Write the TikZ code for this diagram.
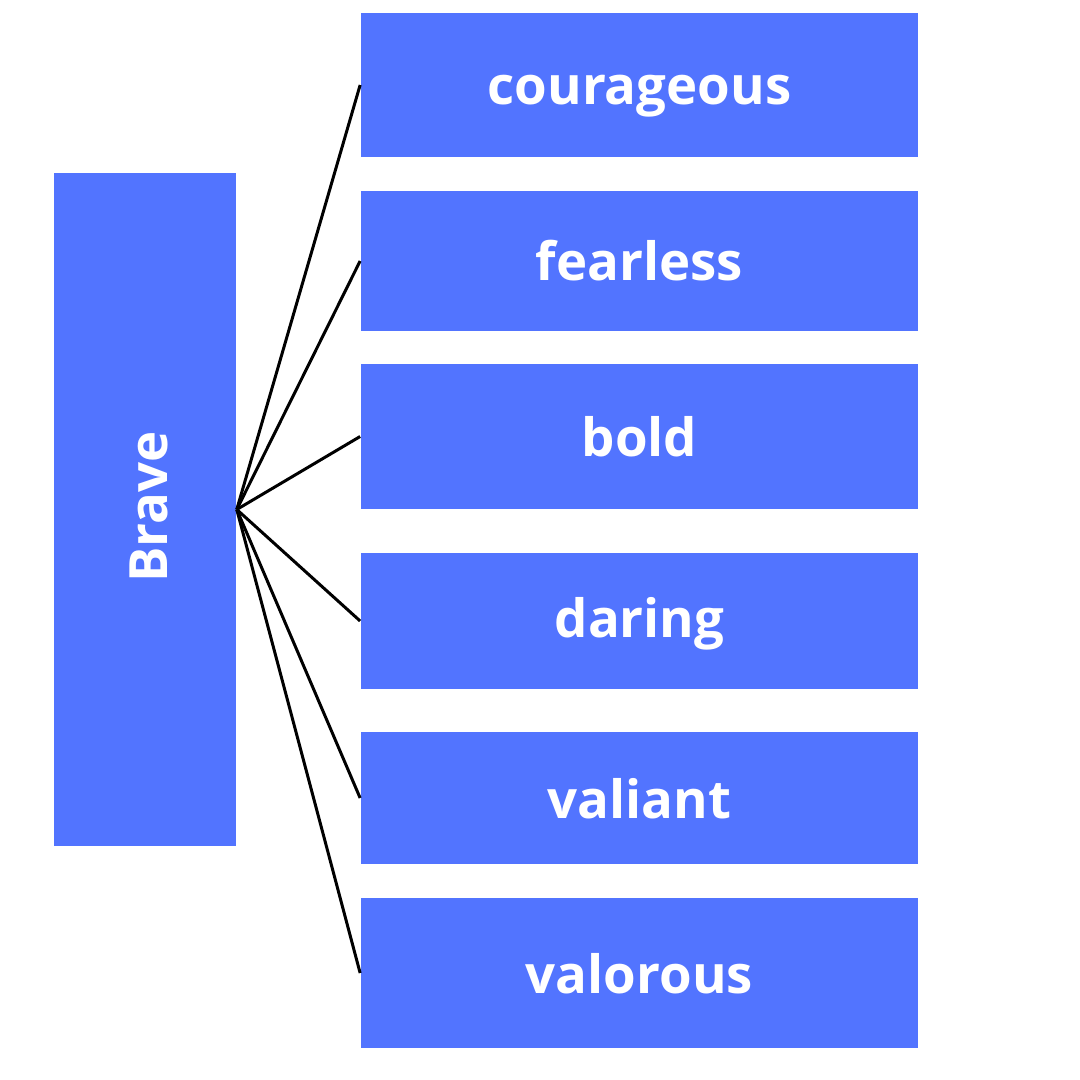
\documentclass[tikz,border=0pt]{standalone}
\usepackage{fontspec}
\setmainfont{Open Sans}
\definecolor{boxblue}{HTML}{5274FF}
\begin{document}
\begin{tikzpicture}[x=0.01cm,y=-0.01cm,
  wbox/.style={fill=boxblue,draw=none,inner sep=0pt,minimum width=5.57cm},
  wtext/.style={text=white,font=\fontsize{15pt}{17pt}\selectfont\bfseries,anchor=base,inner sep=0pt},
  link/.style={draw=black,line width=0.85pt}]
\useasboundingbox (0,0) rectangle (1080,1080);
\fill[white] (0,0) rectangle (1080,1080);
\node[wbox,minimum width=1.82cm,minimum height=6.73cm] (brave) at (145,509.5) {};
\node[wtext,rotate=90] (bravet) at (167,507) {Brave};
\node[wbox,minimum height=1.44cm] (b1) at (639.5,85) {};
\node[wbox,minimum height=1.40cm] (b2) at (639.5,261) {};
\node[wbox,minimum height=1.45cm] (b3) at (639.5,436.5) {};
\node[wbox,minimum height=1.36cm] (b4) at (639.5,621) {};
\node[wbox,minimum height=1.32cm] (b5) at (639.5,798) {};
\node[wbox,minimum height=1.50cm] (b6) at (639.5,973) {};
\node[wtext] (t1) at (639.5,105) {courageous};
\node[wtext] (t2) at (639.5,281) {fearless};
\node[wtext] (t3) at (639.5,457) {bold};
\node[wtext] (t4) at (639.5,637) {daring};
\node[wtext] (t5) at (639.5,818) {valiant};
\node[wtext] (t6) at (639.5,993) {valorous};
\coordinate (hub) at (brave.east);
\foreach \n in {b1,b2,b3,b4,b5,b6} \draw[link] (hub) -- (\n.west);
\end{tikzpicture}
\end{document}
